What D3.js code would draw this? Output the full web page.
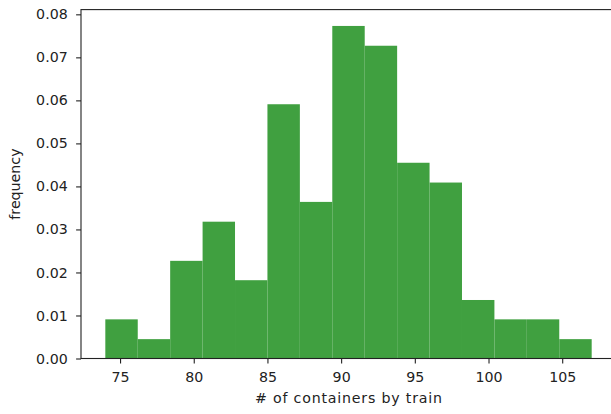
<!DOCTYPE html>
<html>
<head>
<meta charset="utf-8">
<script src="https://cdn.jsdelivr.net/npm/d3@7"></script>
<style>
  html, body { margin: 0; padding: 0; background: #fff; }
  svg { display: block; }
  text { font-family: "DejaVu Sans", sans-serif; fill: #222; }
</style>
</head>
<body>
<svg id="chart" width="611" height="414"></svg>
<script>
// Histogram bin edges (# of containers by train)
const binEdges = [74, 76.2, 78.4, 80.6, 82.8, 85, 87.2, 89.4, 91.6, 93.8, 96, 98.2, 100.4, 102.6, 104.8, 107];
// Frequency (density) per bin
const frequencies = [0.0091, 0.0045, 0.0227, 0.0318, 0.0182, 0.0591, 0.0364, 0.0773, 0.0727, 0.0455, 0.0409, 0.0136, 0.0091, 0.0091, 0.0045];
const xTicks = [75, 80, 85, 90, 95, 100, 105];
const yTicks = [0.00, 0.01, 0.02, 0.03, 0.04, 0.05, 0.06, 0.07, 0.08];
const xLabel = "# of containers by train";
const yLabel = "frequency";

(function () {
  const bins = frequencies.map((f, i) => ({ x0: binEdges[i], x1: binEdges[i + 1], f }));

  const svg = d3.select("#chart");
  const mLeft = 81, mRight = 616, mTop = 9.6, mBottom = 358.5;

  const x = d3.scaleLinear().domain([72.35, 108.65]).range([mLeft, mRight]);
  const y = d3.scaleLinear().domain([0, 0.0811]).range([mBottom, mTop]);

  svg.append("g").selectAll("rect")
    .data(bins)
    .join("rect")
    .attr("x", d => x(d.x0))
    .attr("width", d => x(d.x1) - x(d.x0))
    .attr("y", d => y(d.f))
    .attr("height", d => y(0) - y(d.f))
    .attr("fill", "#40a040");

  const fontSize = "14.2px";

  const xAxis = svg.append("g")
    .attr("transform", `translate(0,${mBottom})`)
    .call(d3.axisBottom(x).tickValues(xTicks).tickFormat(d3.format("d")).tickSize(4.9).tickPadding(8.3).tickSizeOuter(0));
  xAxis.selectAll("text").style("font-size", fontSize).attr("fill", "#222");

  const yAxis = svg.append("g")
    .attr("transform", `translate(${mLeft},0)`)
    .call(d3.axisLeft(y).tickValues(yTicks).tickFormat(d3.format(".2f")).tickSize(4.9).tickPadding(8.4).tickSizeOuter(0));
  yAxis.selectAll("text").style("font-size", fontSize).attr("fill", "#222");

  [xAxis, yAxis].forEach(g => {
    g.select(".domain").remove();
    g.selectAll("line").attr("stroke", "#222").attr("stroke-width", 1.1);
  });

  svg.append("rect")
    .attr("x", mLeft).attr("y", mTop)
    .attr("width", mRight - mLeft).attr("height", mBottom - mTop)
    .attr("fill", "none").attr("stroke", "#222").attr("stroke-width", 1.1);

  svg.append("text")
    .attr("x", (mLeft + mRight) / 2)
    .attr("y", 403)
    .attr("text-anchor", "middle")
    .attr("textLength", 187)
    .attr("lengthAdjust", "spacing")
    .style("font-size", fontSize)
    .text(xLabel);

  svg.append("text")
    .attr("transform", `translate(20,${(mTop + mBottom) / 2}) rotate(-90)`)
    .attr("text-anchor", "middle")
    .style("font-size", fontSize)
    .text(yLabel);
})();
</script>
</body>
</html>
